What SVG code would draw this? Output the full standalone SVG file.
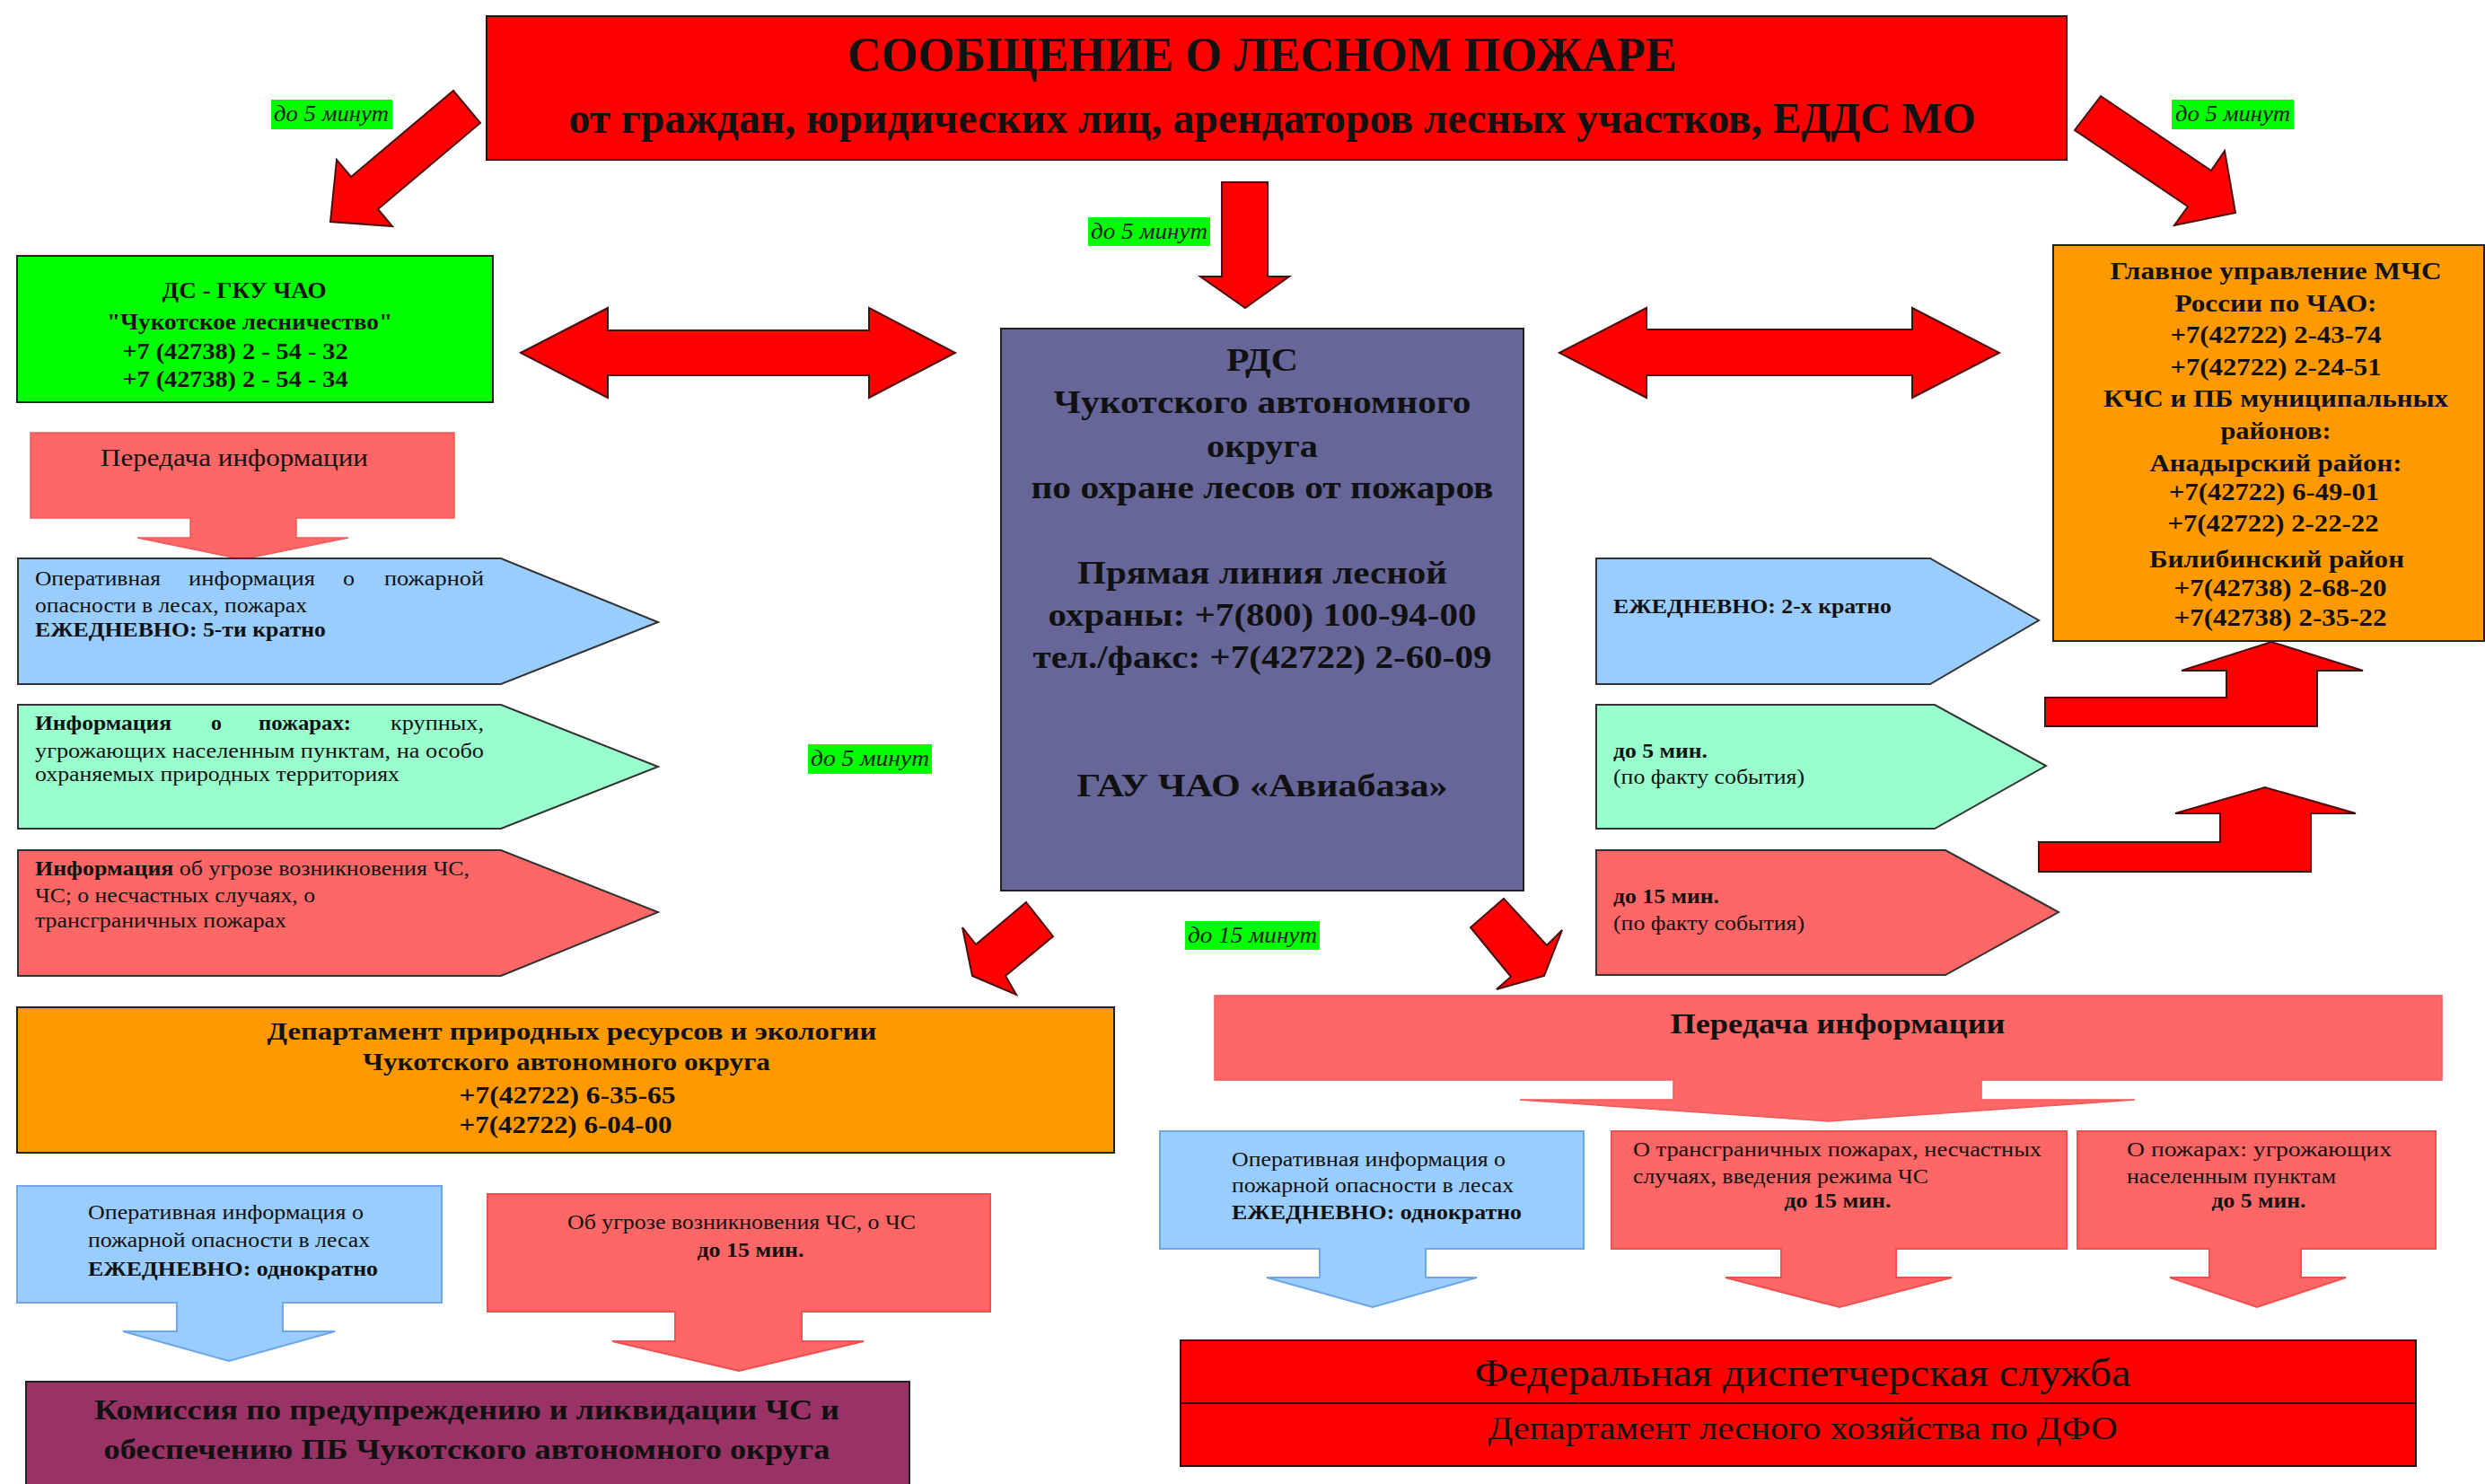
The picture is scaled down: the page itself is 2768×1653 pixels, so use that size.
<svg xmlns="http://www.w3.org/2000/svg" width="2768" height="1653" viewBox="0 0 2768 1653">
<style>
text{font-family:"Liberation Serif","Times New Roman",serif;fill:#111}
.b{font-weight:bold}
.it{font-style:italic}
.red{fill:#ff0000;stroke:#3a0a0a;stroke-width:2}
.arr{fill:#ff0000;stroke:#4a0c0c;stroke-width:2;stroke-linejoin:miter}
.lbl{fill:#00ff00}
.lt{font-size:26px;font-style:italic;fill:#102010}
.pb{fill:#99ccff;stroke:#333;stroke-width:2}
.pg{fill:#99ffcc;stroke:#333;stroke-width:2}
.pr{fill:#ff6666;stroke:#333;stroke-width:2}
.cb{fill:#99ccff;stroke:#6ea6ea;stroke-width:2}
.cr{fill:#ff6666;stroke:#f05050;stroke-width:2}
.c{text-anchor:middle}
.s24{font-size:24px}
.s26{font-size:26px}
.s28{font-size:28px}
.s32{font-size:32px}
</style>

<g id="connectors">
  <!-- top-left diagonal -->
  <polygon class="arr" points="505,101 535,137 421,233 437,252 368,247 375,178 391,197"/>
  <!-- top-right diagonal -->
  <polygon class="arr" points="2340,107 2463,190 2478,168 2490,237 2422,251 2437,230 2311,145"/>
  <!-- center down -->
  <polygon class="arr" points="1361,203 1412,203 1412,308 1436,308 1387,343 1337,308 1361,308"/>
  <!-- double arrows -->
  <polygon class="arr" points="580,393 677,343 677,368 968,368 968,343 1064,393 968,443 968,418 677,418 677,443"/>
  <polygon class="arr" points="1737,393 1834,343 1834,367 2130,367 2130,343 2227,393 2130,443 2130,418 1834,418 1834,443"/>
  <!-- bent arrows to MChS -->
  <polygon class="arr" points="2278,777 2480,777 2480,747 2430,747 2530,715 2632,747 2581,747 2581,809 2278,809"/>
  <polygon class="arr" points="2271,938 2473,938 2473,906 2423,906 2523,877 2624,906 2574,906 2574,971 2271,971"/>
  <!-- small diagonals under RDS -->
  <polygon class="arr" points="1143,1005 1173,1043 1120,1087 1132,1108 1083,1087 1072,1033 1087,1052"/>
  <polygon class="arr" points="1675,1001 1723,1053 1740,1036 1720,1087 1667,1102 1683,1088 1638,1033"/>
</g>

<g id="labels">
  <rect class="lbl" x="302" y="111" width="135" height="33"/>
  <text class="lt" x="369" y="135" text-anchor="middle" textLength="128" lengthAdjust="spacingAndGlyphs">до 5 минут</text>
  <rect class="lbl" x="2419" y="111" width="136" height="33"/>
  <text class="lt" x="2487" y="135" text-anchor="middle" textLength="128" lengthAdjust="spacingAndGlyphs">до 5 минут</text>
  <rect class="lbl" x="1212" y="242" width="136" height="32"/>
  <text class="lt" x="1280" y="266" text-anchor="middle" textLength="130" lengthAdjust="spacingAndGlyphs">до 5 минут</text>
  <rect class="lbl" x="900" y="829" width="138" height="33"/>
  <text class="lt" x="969" y="853" text-anchor="middle" textLength="132" lengthAdjust="spacingAndGlyphs">до 5 минут</text>
  <rect class="lbl" x="1320" y="1026" width="150" height="32"/>
  <text class="lt" x="1395" y="1050" text-anchor="middle" textLength="144" lengthAdjust="spacingAndGlyphs">до 15 минут</text>
</g>

<g id="n-top">
  <rect class="red" x="542" y="18" width="1760" height="160"/>
  <text class="b c" x="1406" y="79" font-size="54" textLength="924" lengthAdjust="spacingAndGlyphs">СООБЩЕНИЕ О ЛЕСНОМ ПОЖАРЕ</text>
  <text class="b c" x="1417" y="148" font-size="48" textLength="1567" lengthAdjust="spacingAndGlyphs">от граждан, юридических лиц, арендаторов лесных участков, ЕДДС МО</text>
</g>

<g id="n-ds">
  <rect x="19" y="285" width="530" height="163" fill="#00ff00" stroke="#222" stroke-width="2"/>
  <text class="b c s26" x="272" y="332" textLength="183" lengthAdjust="spacingAndGlyphs">ДС - ГКУ ЧАО</text>
  <text class="b c s26" x="278" y="367" textLength="318" lengthAdjust="spacingAndGlyphs">"Чукотское лесничество"</text>
  <text class="b c s26" x="262" y="400" textLength="251" lengthAdjust="spacingAndGlyphs">+7 (42738) 2 - 54 - 32</text>
  <text class="b c s26" x="262" y="431" textLength="251" lengthAdjust="spacingAndGlyphs">+7 (42738) 2 - 54 - 34</text>
</g>

<g id="n-rds">
  <rect x="1115" y="366" width="582" height="626" fill="#666699" stroke="#222" stroke-width="2"/>
  <g class="b c" font-size="36">
    <text x="1406" y="413" textLength="80" lengthAdjust="spacingAndGlyphs">РДС</text>
    <text x="1406" y="460" textLength="465" lengthAdjust="spacingAndGlyphs">Чукотского автономного</text>
    <text x="1406" y="509" textLength="124" lengthAdjust="spacingAndGlyphs">округа</text>
    <text x="1406" y="555" textLength="515" lengthAdjust="spacingAndGlyphs">по охране лесов от пожаров</text>
    <text x="1406" y="650" textLength="412" lengthAdjust="spacingAndGlyphs">Прямая линия лесной</text>
    <text x="1406" y="697" textLength="477" lengthAdjust="spacingAndGlyphs">охраны: +7(800) 100-94-00</text>
    <text x="1406" y="744" textLength="511" lengthAdjust="spacingAndGlyphs">тел./факс: +7(42722) 2-60-09</text>
    <text x="1406" y="887" textLength="413" lengthAdjust="spacingAndGlyphs">ГАУ ЧАО «Авиабаза»</text>
  </g>
</g>

<g id="n-mchs">
  <rect x="2287" y="273" width="480" height="441" fill="#ff9900" stroke="#222" stroke-width="2"/>
  <g class="b c s28">
    <text x="2535" y="311" textLength="369" lengthAdjust="spacingAndGlyphs">Главное управление МЧС</text>
    <text x="2535" y="347" textLength="225" lengthAdjust="spacingAndGlyphs">России по ЧАО:</text>
    <text x="2535" y="382" textLength="235" lengthAdjust="spacingAndGlyphs">+7(42722) 2-43-74</text>
    <text x="2535" y="418" textLength="235" lengthAdjust="spacingAndGlyphs">+7(42722) 2-24-51</text>
    <text x="2535" y="453" textLength="384" lengthAdjust="spacingAndGlyphs">КЧС и ПБ муниципальных</text>
    <text x="2535" y="489" textLength="123" lengthAdjust="spacingAndGlyphs">районов:</text>
    <text x="2535" y="525" textLength="281" lengthAdjust="spacingAndGlyphs">Анадырский район:</text>
    <text x="2533" y="557" textLength="234" lengthAdjust="spacingAndGlyphs">+7(42722) 6-49-01</text>
    <text x="2532" y="592" textLength="235" lengthAdjust="spacingAndGlyphs">+7(42722) 2-22-22</text>
    <text x="2536" y="632" textLength="284" lengthAdjust="spacingAndGlyphs">Билибинский район</text>
    <text x="2540" y="664" textLength="237" lengthAdjust="spacingAndGlyphs">+7(42738) 2-68-20</text>
    <text x="2540" y="697" textLength="237" lengthAdjust="spacingAndGlyphs">+7(42738) 2-35-22</text>
  </g>
</g>

<g id="n-left-transfer">
  <polygon points="34,482 506,482 506,577 330,577 330,599 388,599 270,623 153,599 212,599 212,577 34,577" fill="#ff6666" stroke="#f05a5a" stroke-width="1.5"/>
  <text class="c s28" x="261" y="519" textLength="298" lengthAdjust="spacingAndGlyphs">Передача информации</text>
</g>

<g id="n-left-blue">
  <polygon class="pb" points="20,622 558,622 733,693 558,762 20,762"/>
  <g class="s24">
    <text x="39" y="652" textLength="140" lengthAdjust="spacingAndGlyphs">Оперативная</text>
    <text x="210" y="652" textLength="141" lengthAdjust="spacingAndGlyphs">информация</text>
    <text x="382" y="652" textLength="13" lengthAdjust="spacingAndGlyphs">о</text>
    <text x="428" y="652" textLength="111" lengthAdjust="spacingAndGlyphs">пожарной</text>
    <text x="39" y="682" textLength="303" lengthAdjust="spacingAndGlyphs">опасности в лесах, пожарах</text>
    <text class="b" x="39" y="709" textLength="324" lengthAdjust="spacingAndGlyphs">ЕЖЕДНЕВНО: 5-ти кратно</text>
  </g>
</g>

<g id="n-left-green">
  <polygon class="pg" points="20,785 558,785 733,854 558,923 20,923"/>
  <g class="s24">
    <text class="b" x="39" y="813" textLength="152" lengthAdjust="spacingAndGlyphs">Информация</text>
    <text class="b" x="235" y="813" textLength="12" lengthAdjust="spacingAndGlyphs">о</text>
    <text class="b" x="288" y="813" textLength="103" lengthAdjust="spacingAndGlyphs">пожарах:</text>
    <text x="435" y="813" textLength="104" lengthAdjust="spacingAndGlyphs">крупных,</text>
    <text x="39" y="844" textLength="500" lengthAdjust="spacingAndGlyphs">угрожающих населенным пунктам, на особо</text>
    <text x="39" y="870" textLength="406" lengthAdjust="spacingAndGlyphs">охраняемых природных территориях</text>
  </g>
</g>

<g id="n-left-red">
  <polygon class="pr" points="20,947 558,947 733,1016 558,1087 20,1087"/>
  <g class="s24">
    <text x="39" y="975" textLength="484" lengthAdjust="spacingAndGlyphs"><tspan class="b">Информация</tspan> об угрозе возникновения ЧС,</text>
    <text x="39" y="1005" textLength="312" lengthAdjust="spacingAndGlyphs">ЧС; о несчастных случаях, о</text>
    <text x="39" y="1033" textLength="280" lengthAdjust="spacingAndGlyphs">трансграничных пожарах</text>
  </g>
</g>

<g id="n-right-blue">
  <polygon class="pb" points="1778,622 2150,622 2271,691 2150,762 1778,762"/>
  <text class="b s24" x="1797" y="683" textLength="310" lengthAdjust="spacingAndGlyphs">ЕЖЕДНЕВНО: 2-х кратно</text>
</g>

<g id="n-right-green">
  <polygon class="pg" points="1778,785 2155,785 2279,853 2155,923 1778,923"/>
  <text class="b s24" x="1797" y="844" textLength="105" lengthAdjust="spacingAndGlyphs">до 5 мин.</text>
  <text class="s24" x="1797" y="873" textLength="213" lengthAdjust="spacingAndGlyphs">(по факту события)</text>
</g>

<g id="n-right-red">
  <polygon class="pr" points="1778,947 2167,947 2293,1016 2167,1086 1778,1086"/>
  <text class="b s24" x="1797" y="1006" textLength="118" lengthAdjust="spacingAndGlyphs">до 15 мин.</text>
  <text class="s24" x="1797" y="1036" textLength="213" lengthAdjust="spacingAndGlyphs">(по факту события)</text>
</g>

<g id="n-dept">
  <rect x="19" y="1122" width="1222" height="162" fill="#ff9900" stroke="#222" stroke-width="2"/>
  <g class="b c s28">
    <text x="637" y="1158" textLength="679" lengthAdjust="spacingAndGlyphs">Департамент природных ресурсов и экологии</text>
    <text x="631" y="1192" textLength="454" lengthAdjust="spacingAndGlyphs">Чукотского автономного округа</text>
    <text x="632" y="1229" textLength="241" lengthAdjust="spacingAndGlyphs">+7(42722) 6-35-65</text>
    <text x="630" y="1262" textLength="237" lengthAdjust="spacingAndGlyphs">+7(42722) 6-04-00</text>
  </g>
</g>

<g id="n-bl-blue">
  <polygon class="cb" points="19,1321 492,1321 492,1451 315,1451 315,1483 373,1483 255,1516 137,1483 197,1483 197,1451 19,1451"/>
  <g class="s24">
    <text x="98" y="1358" textLength="307" lengthAdjust="spacingAndGlyphs">Оперативная информация о</text>
    <text x="98" y="1389" textLength="314" lengthAdjust="spacingAndGlyphs">пожарной опасности в лесах</text>
    <text class="b" x="98" y="1421" textLength="323" lengthAdjust="spacingAndGlyphs">ЕЖЕДНЕВНО: однократно</text>
  </g>
</g>

<g id="n-bl-red">
  <polygon class="cr" points="543,1330 1103,1330 1103,1461 893,1461 893,1494 962,1494 823,1527 682,1494 752,1494 752,1461 543,1461"/>
  <text class="c s24" x="826" y="1369" textLength="388" lengthAdjust="spacingAndGlyphs">Об угрозе возникновения ЧС, о ЧС</text>
  <text class="b c s24" x="836" y="1400" textLength="119" lengthAdjust="spacingAndGlyphs">до 15 мин.</text>
</g>

<g id="n-commission">
  <rect x="29" y="1539" width="984" height="125" fill="#993366" stroke="#222" stroke-width="2"/>
  <text class="b c s32" x="520" y="1581" textLength="830" lengthAdjust="spacingAndGlyphs">Комиссия по предупреждению и ликвидации ЧС и</text>
  <text class="b c s32" x="520" y="1625" textLength="809" lengthAdjust="spacingAndGlyphs">обеспечению ПБ Чукотского автономного округа</text>
</g>

<g id="n-right-transfer">
  <polygon points="1353,1109 2720,1109 2720,1203 2207,1203 2207,1225 2378,1225 2036,1249 1693,1225 1864,1225 1864,1203 1353,1203" fill="#ff6666" stroke="#f05a5a" stroke-width="1.5"/>
  <text class="b c s32" x="2047" y="1151" textLength="373" lengthAdjust="spacingAndGlyphs">Передача информации</text>
</g>

<g id="n-br-blue">
  <polygon class="cb" points="1292,1260 1764,1260 1764,1391 1588,1391 1588,1423 1645,1423 1529,1456 1411,1423 1470,1423 1470,1391 1292,1391"/>
  <g class="s24">
    <text x="1372" y="1299" textLength="305" lengthAdjust="spacingAndGlyphs">Оперативная информация о</text>
    <text x="1372" y="1328" textLength="314" lengthAdjust="spacingAndGlyphs">пожарной опасности в лесах</text>
    <text class="b" x="1372" y="1358" textLength="323" lengthAdjust="spacingAndGlyphs">ЕЖЕДНЕВНО: однократно</text>
  </g>
</g>

<g id="n-br-red1">
  <polygon class="cr" points="1795,1260 2302,1260 2302,1391 2112,1391 2112,1423 2174,1423 2049,1456 1922,1423 1984,1423 1984,1391 1795,1391"/>
  <g class="s24">
    <text x="1819" y="1288" textLength="455" lengthAdjust="spacingAndGlyphs">О трансграничных пожарах, несчастных</text>
    <text x="1819" y="1318" textLength="329" lengthAdjust="spacingAndGlyphs">случаях, введения режима ЧС</text>
    <text class="b c" x="2047" y="1345" textLength="119" lengthAdjust="spacingAndGlyphs">до 15 мин.</text>
  </g>
</g>

<g id="n-br-red2">
  <polygon class="cr" points="2314,1260 2713,1260 2713,1391 2563,1391 2563,1423 2613,1423 2514,1456 2417,1423 2461,1423 2461,1391 2314,1391"/>
  <g class="s24">
    <text x="2369" y="1288" textLength="295" lengthAdjust="spacingAndGlyphs">О пожарах: угрожающих</text>
    <text x="2369" y="1318" textLength="233" lengthAdjust="spacingAndGlyphs">населенным пунктам</text>
    <text class="b c" x="2516" y="1345" textLength="105" lengthAdjust="spacingAndGlyphs">до 5 мин.</text>
  </g>
</g>

<g id="n-federal">
  <rect class="red" x="1315" y="1493" width="1376" height="140"/>
  <line x1="1315" y1="1563" x2="2691" y2="1563" stroke="#3a0a0a" stroke-width="2"/>
  <text class="c" x="2008" y="1544" font-size="44" textLength="731" lengthAdjust="spacingAndGlyphs">Федеральная диспетчерская служба</text>
  <text class="c" x="2008" y="1603" font-size="36" textLength="701" lengthAdjust="spacingAndGlyphs">Департамент лесного хозяйства по ДФО</text>
</g>
</svg>
